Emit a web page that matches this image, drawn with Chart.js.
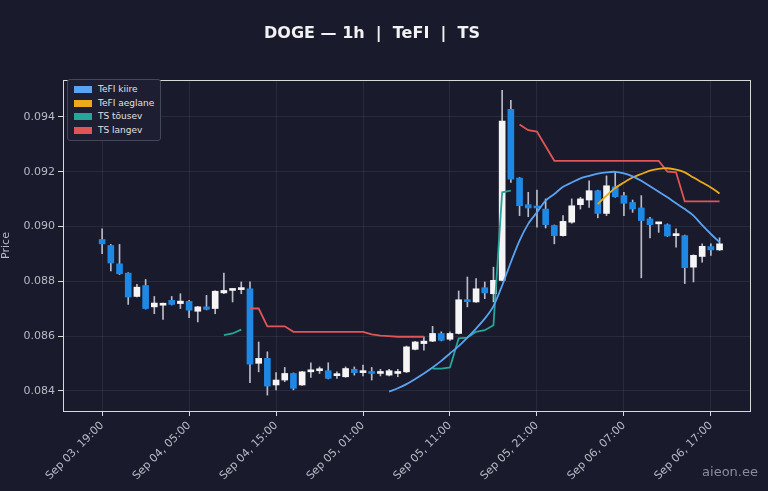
<!DOCTYPE html>
<html>
<head>
<meta charset="utf-8">
<script src="https://cdn.jsdelivr.net/npm/chart.js@4"></script>
<style>
  body { margin: 0; background: #191a2c; }
  #wrap { position: relative; width: 768px; height: 491px; }
  #title { position: absolute; top: 23px; left: 0; width: 744px; text-align: center;
    font: bold 16px "DejaVu Sans", sans-serif; color: #f2f2f2; }
  #legend { position: absolute; left: 67px; top: 79px; padding: 3px 6px 3px 6px;
    background: #1d1e31; border: 1px solid #44465a; border-radius: 3px;
    font: 9px "DejaVu Sans", sans-serif; color: #e0e0e0; }
  #legend div { height: 13.5px; line-height: 13.5px; }
  #legend span { display: inline-block; width: 18px; height: 7px; margin-right: 6px; vertical-align: -1px; }
  #mark { position: absolute; right: 10px; bottom: 12px; font: 13px "DejaVu Sans", sans-serif; color: #8a8c99; }
</style>
</head>
<body>
<div id="wrap">
  <canvas id="chart" width="768" height="491"></canvas>
  <div id="title">DOGE — 1h &nbsp;|&nbsp; TeFI &nbsp;|&nbsp; TS</div>
  <div id="legend">
    <div><span style="background:#5aa2f2"></span>TeFI kiire</div>
    <div><span style="background:#eaaa1a"></span>TeFI aeglane</div>
    <div><span style="background:#26a69a"></span>TS tõusev</div>
    <div><span style="background:#e05555"></span>TS langev</div>
  </div>
  <div id="mark">aieon.ee</div>
</div>
<script>
/* DATA */
const tickLabels = ["Sep 03, 19:00", "Sep 04, 05:00", "Sep 04, 15:00", "Sep 05, 01:00",
  "Sep 05, 11:00", "Sep 05, 21:00", "Sep 06, 07:00", "Sep 06, 17:00"];
const yTicks = [0.084, 0.086, 0.088, 0.090, 0.092, 0.094];

const opens = [0.08953, 0.08931, 0.08864, 0.08830, 0.08745, 0.08785, 0.08707, 0.08713, 0.08731, 0.08719,
  0.08727, 0.08691, 0.08707, 0.08701, 0.08758, 0.08767, 0.08770, 0.08773, 0.08501, 0.08519,
  0.08422, 0.08440, 0.08464, 0.08422, 0.08470, 0.08474, 0.08474, 0.08456, 0.08452, 0.08479,
  0.08467, 0.08469, 0.08464, 0.08458, 0.08464, 0.08470, 0.08552, 0.08573, 0.08582, 0.08610,
  0.08589, 0.08610, 0.08733, 0.08725, 0.08777, 0.08755, 0.08804, 0.09428, 0.09177, 0.09080,
  0.09073, 0.09064, 0.09004, 0.08967, 0.09016, 0.09080, 0.09097, 0.09131, 0.09048, 0.09145,
  0.09113, 0.09088, 0.09068, 0.09028, 0.09010, 0.09007, 0.08967, 0.08967, 0.08852, 0.08891,
  0.08927, 0.08915];
const highs = [0.08992, 0.08935, 0.08935, 0.08832, 0.08789, 0.08807, 0.08745, 0.08721, 0.08745, 0.08755,
  0.08731, 0.08709, 0.08749, 0.08766, 0.08830, 0.08773, 0.08798, 0.08798, 0.08579, 0.08543,
  0.08467, 0.08486, 0.08466, 0.08472, 0.08503, 0.08488, 0.08503, 0.08470, 0.08488, 0.08488,
  0.08495, 0.08486, 0.08479, 0.08479, 0.08479, 0.08564, 0.08581, 0.08598, 0.08636, 0.08616,
  0.08616, 0.08765, 0.08816, 0.08810, 0.08798, 0.08852, 0.09497, 0.09461, 0.09179, 0.09125,
  0.09133, 0.09101, 0.09006, 0.09040, 0.09101, 0.09107, 0.09167, 0.09133, 0.09185, 0.09198,
  0.09125, 0.09097, 0.09113, 0.09034, 0.09016, 0.09010, 0.08992, 0.08969, 0.08897, 0.08937,
  0.08937, 0.08959];
const lows = [0.08901, 0.08838, 0.08825, 0.08716, 0.08743, 0.08699, 0.08682, 0.08661, 0.08714, 0.08701,
  0.08668, 0.08652, 0.08696, 0.08682, 0.08755, 0.08725, 0.08755, 0.08430, 0.08470, 0.08385,
  0.08404, 0.08434, 0.08404, 0.08420, 0.08450, 0.08464, 0.08444, 0.08446, 0.08450, 0.08458,
  0.08455, 0.08440, 0.08455, 0.08455, 0.08452, 0.08467, 0.08550, 0.08549, 0.08580, 0.08583,
  0.08585, 0.08608, 0.08707, 0.08723, 0.08737, 0.08725, 0.08802, 0.09161, 0.09040, 0.09036,
  0.08998, 0.08995, 0.08937, 0.08965, 0.09012, 0.09064, 0.09070, 0.09032, 0.09040, 0.09107,
  0.09040, 0.09052, 0.08813, 0.08959, 0.08979, 0.08964, 0.08925, 0.08792, 0.08798, 0.08870,
  0.08895, 0.08913];
const closes = [0.08937, 0.08867, 0.08828, 0.08743, 0.08779, 0.08701, 0.08721, 0.08719, 0.08716, 0.08728,
  0.08695, 0.08707, 0.08698, 0.08764, 0.08767, 0.08771, 0.08776, 0.08498, 0.08519, 0.08418,
  0.08440, 0.08464, 0.08410, 0.08470, 0.08476, 0.08479, 0.08446, 0.08458, 0.08482, 0.08467,
  0.08469, 0.08464, 0.08467, 0.08474, 0.08468, 0.08561, 0.08579, 0.08582, 0.08610, 0.08585,
  0.08610, 0.08733, 0.08726, 0.08773, 0.08758, 0.08804, 0.09385, 0.09173, 0.09076, 0.09068,
  0.09068, 0.09007, 0.08967, 0.09019, 0.09076, 0.09101, 0.09131, 0.09048, 0.09149, 0.09109,
  0.09085, 0.09064, 0.09022, 0.09007, 0.09012, 0.08966, 0.08970, 0.08850, 0.08895, 0.08928,
  0.08915, 0.08937];

// indicator lines, indexed by candle; null = not drawn
const _ = null;
const tefiFast = [_, _, _, _, _, _, _, _, _, _, _, _, _, _, _, _, _, _, _, _,
  _, _, _, _, _, _, _, _, _, _, _, _, _, 0.08398, 0.08410, 0.08425, 0.08444, 0.08464, 0.08486, 0.08510,
  0.08537, 0.08564, 0.08595, 0.08628, 0.08664, 0.08710, 0.08785, 0.08870, 0.08949, 0.09010,
  0.09052, 0.09095, 0.09119, 0.09145, 0.09161, 0.09176, 0.09185, 0.09193, 0.09198, 0.09200,
  0.09194, 0.09183, 0.09167, 0.09147, 0.09127, 0.09107, 0.09085, 0.09064, 0.09040, 0.09005,
  0.08973, 0.08943];
const tefiSlow = [_, _, _, _, _, _, _, _, _, _, _, _, _, _, _, _, _, _, _, _,
  _, _, _, _, _, _, _, _, _, _, _, _, _, _, _, _, _, _, _, _,
  _, _, _, _, _, _, _, _, _, _, _, _, _, _, _, _, _, 0.09082, 0.09113, 0.09141,
  0.09161, 0.09179, 0.09192, 0.09204, 0.09211, 0.09213, 0.09208, 0.09198, 0.09179, 0.09161,
  0.09143, 0.09121];
const tsUp = [_, _, _, _, _, _, _, _, _, _, _, _, _, _, 0.08604, 0.08610, 0.08624, _, _, _,
  _, _, _, _, _, _, _, _, _, _, _, _, _, _, _, _, _, _, 0.08482, 0.08482,
  0.08486, 0.08592, 0.08595, 0.08616, 0.08622, 0.08640, 0.09125, 0.09131, _, _,
  _, _, _, _, _, _, _, _, _, _, _, _, _, _, _, _, _, _, _, _,
  _, _];
const tsDown = [_, _, _, _, _, _, _, _, _, _, _, _, _, _, _, _, _, 0.08701, 0.08701, 0.08636,
  0.08636, 0.08636, 0.08616, 0.08616, 0.08616, 0.08616, 0.08616, 0.08616, 0.08616, 0.08616,
  0.08616, 0.08607, 0.08602, 0.08600, 0.08598, 0.08598, 0.08598, 0.08598, _, _,
  _, _, _, _, _, _, _, _, 0.09373, 0.09352,
  0.09347, 0.09293, 0.09240, 0.09240, 0.09240, 0.09240, 0.09240, 0.09240, 0.09240, 0.09240,
  0.09240, 0.09240, 0.09240, 0.09240, 0.09240, 0.09201, 0.09198, 0.09092, 0.09092, 0.09092,
  0.09092, 0.09092];

/* CHART */
const UP = "#f5f5f5", DOWN = "#1e88e5";
const candleColors = opens.map((o, i) => closes[i] >= o ? UP : DOWN);
const pts = arr => arr.map((v, i) => ({ x: i, y: v }));

const frame = {
  id: "frame",
  afterDraw(c) {
    const a = c.chartArea, g = c.ctx;
    g.save();
    g.strokeStyle = "#d8d8d8";
    g.lineWidth = 1;
    g.strokeRect(a.left + 0.5, a.top + 0.5, a.right - a.left, a.bottom - a.top);
    g.restore();
  }
};

const lineDs = (label, data, color) => ({
  type: "line", label, data: pts(data), borderColor: color, borderWidth: 1.8,
  pointRadius: 0, tension: 0.3, spanGaps: false, order: 0
});

new Chart(document.getElementById("chart"), {
  type: "bar",
  data: {
    datasets: [
      { label: "wick", data: lows.map((l, i) => ({ x: i, y: [l, highs[i]] })),
        backgroundColor: "#b9bcc8", barThickness: 1, grouped: false, order: 2 },
      { label: "body", data: opens.map((o, i) => ({ x: i, y: [o, closes[i]] })),
        backgroundColor: candleColors, barThickness: 6, grouped: false, minBarLength: 2, order: 1 },
      lineDs("TeFI kiire", tefiFast, "#5aa2f2"),
      lineDs("TeFI aeglane", tefiSlow, "#eaaa1a"),
      Object.assign(lineDs("TS tõusev", tsUp, "#26a69a"), { tension: 0 }),
      Object.assign(lineDs("TS langev", tsDown, "#e05555"), { tension: 0 })
    ]
  },
  options: {
    responsive: false,
    animation: false,
    layout: { padding: { top: 80, right: 18, left: 0, bottom: 0 } },
    plugins: { legend: { display: false }, tooltip: { enabled: false } },
    scales: {
      x: {
        type: "linear", min: -4.5, max: 74.5, offset: false,
        afterBuildTicks: s => { s.ticks = tickLabels.map((t, i) => ({ value: i * 10 })); },
        afterFit: s => { s.height = 80; },
        ticks: { color: "#b8bac4", font: { size: 11, family: "DejaVu Sans" },
          maxRotation: 45, minRotation: 45, autoSkip: false,
          callback: (v, i) => tickLabels[i] },
        grid: { offset: false, color: "rgba(255,255,255,0.07)", tickColor: "#d8d8d8", tickLength: 5 },
        border: { display: false }
      },
      y: {
        min: 0.08327, max: 0.09535,
        afterBuildTicks: s => { s.ticks = yTicks.map(v => ({ value: v })); },
        afterFit: s => { s.width = 63; },
        ticks: { color: "#b8bac4", font: { size: 11, family: "DejaVu Sans" },
          callback: v => v.toFixed(3) },
        grid: { color: "rgba(255,255,255,0.07)", tickColor: "#d8d8d8", tickLength: 5 },
        border: { display: false },
        title: { display: true, text: "Price", color: "#b8bac4",
          font: { size: 11, family: "DejaVu Sans" }, padding: 0 }
      }
    }
  },
  plugins: [frame]
});
</script>
</body>
</html>
